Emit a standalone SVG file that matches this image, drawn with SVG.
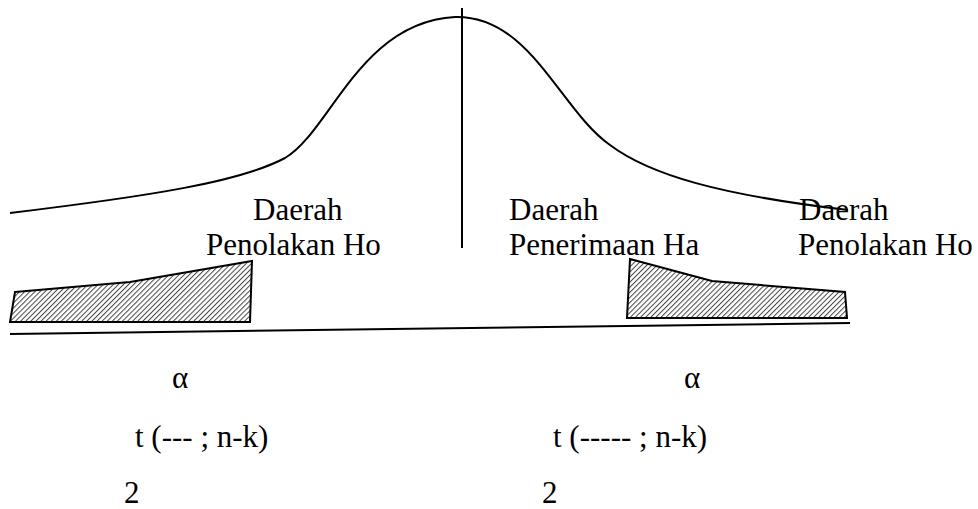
<svg xmlns="http://www.w3.org/2000/svg" width="978" height="509" viewBox="0 0 978 509">
  <style>
    text { font-family: 'Liberation Serif', 'Times New Roman', Tinos, 'DejaVu Serif', serif; font-size: 31px; fill: #000; }
    .ln { fill: none; stroke: #000; stroke-width: 2; }
    .hatch { fill: url(#hatch); stroke: #000; stroke-width: 2; stroke-linejoin: miter; }
  </style>
  <defs>
    <pattern id="hatch" patternUnits="userSpaceOnUse" width="3.6" height="3.6" patternTransform="rotate(45)">
      <rect width="3.6" height="3.6" fill="#fff"/>
      <line x1="0" y1="0" x2="0" y2="3.6" stroke="#444" stroke-width="2"/>
    </pattern>
  </defs>

  <g id="curve">
    <path class="ln" d="M10,213 C150,196 240,182 285,158 C330,132 360,22 455,17 C530,15 560,110 610,145 C650,175 720,195 848,210"/>
  </g>

  <g id="connectors">
    <line class="ln" x1="462" y1="8" x2="462" y2="248"/>
    <line class="ln" x1="10" y1="334" x2="850" y2="323"/>
  </g>

  <g id="left-region">
    <polygon class="hatch" points="15,292 130,282 252,261 250,322 10,322"/>
  </g>
  <g id="right-region">
    <polygon class="hatch" points="630,259 712,281 845,292 847,318 627,318"/>
  </g>

  <g id="label-left">
    <text font-family="Liberation Serif, serif" x="253" y="220">Daerah</text>
    <text font-family="Liberation Serif, serif" x="206" y="255">Penolakan Ho</text>
  </g>
  <g id="label-center">
    <text font-family="Liberation Serif, serif" x="509" y="220">Daerah</text>
    <text font-family="Liberation Serif, serif" x="509" y="255">Penerimaan Ha</text>
  </g>
  <g id="label-right">
    <text font-family="Liberation Serif, serif" x="799" y="220">Daerah</text>
    <text font-family="Liberation Serif, serif" x="798" y="255">Penolakan Ho</text>
  </g>

  <g id="formula-left">
    <text font-family="Liberation Serif, serif" x="172" y="388">α</text>
    <text font-family="Liberation Serif, serif" x="135" y="447">t (--- ; n-k)</text>
    <text font-family="Liberation Serif, serif" x="124" y="503">2</text>
  </g>
  <g id="formula-right">
    <text font-family="Liberation Serif, serif" x="684" y="388">α</text>
    <text font-family="Liberation Serif, serif" x="553" y="447">t (----- ; n-k)</text>
    <text font-family="Liberation Serif, serif" x="542" y="503">2</text>
  </g>
</svg>
